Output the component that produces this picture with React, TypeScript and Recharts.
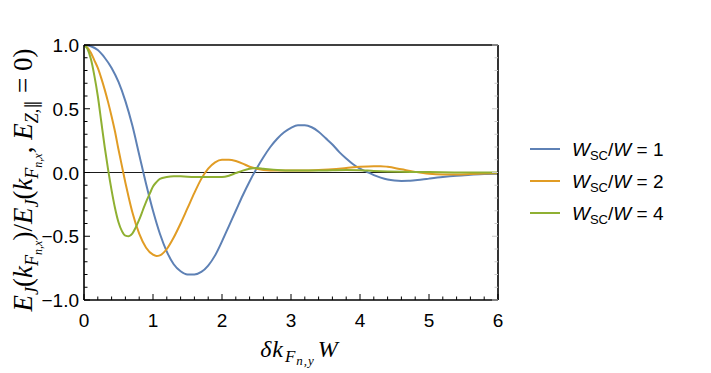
import React from 'react';
import {
  LineChart,
  Line,
  XAxis,
  YAxis,
  ReferenceLine,
  Legend,
} from 'recharts';

const w1X = [0, 0.1, 0.2, 0.3, 0.4, 0.5, 0.6, 0.7, 0.8, 0.9, 1.0, 1.1, 1.2, 1.3, 1.4, 1.5, 1.6, 1.7, 1.8, 1.9, 2.0, 2.1, 2.2, 2.3, 2.4, 2.5, 2.6, 2.7, 2.8, 2.9, 3.0, 3.1, 3.2, 3.3, 3.4, 3.5, 3.6, 3.7, 3.8, 3.9, 4.0, 4.1, 4.2, 4.3, 4.4, 4.5, 4.6, 4.7, 4.8, 4.9, 5.0, 5.2, 5.4, 5.6, 5.8, 6.0];
const w1Y = [1.0, 0.99, 0.96, 0.9, 0.82, 0.71, 0.56, 0.37, 0.14, -0.09, -0.3, -0.48, -0.62, -0.72, -0.775, -0.8, -0.8, -0.78, -0.73, -0.65, -0.54, -0.42, -0.3, -0.18, -0.07, 0.03, 0.12, 0.2, 0.265, 0.315, 0.35, 0.37, 0.37, 0.355, 0.32, 0.27, 0.22, 0.16, 0.11, 0.065, 0.03, 0.005, -0.02, -0.04, -0.055, -0.063, -0.066, -0.065, -0.06, -0.055, -0.048, -0.035, -0.025, -0.018, -0.012, -0.01];

const w2X = [0, 0.05, 0.1, 0.15, 0.2, 0.25, 0.3, 0.35, 0.4, 0.45, 0.5, 0.55, 0.6, 0.65, 0.7, 0.8, 0.9, 1.0, 1.05, 1.1, 1.2, 1.3, 1.4, 1.5, 1.6, 1.7, 1.8, 1.9, 2.0, 2.1, 2.2, 2.3, 2.4, 2.5, 2.6, 2.8, 3.0, 3.2, 3.4, 3.6, 3.8, 4.0, 4.2, 4.3, 4.4, 4.6, 4.8, 5.0, 5.2, 5.4, 5.6, 5.8, 6.0];
const w2Y = [1.0, 0.98, 0.94, 0.88, 0.82, 0.74, 0.65, 0.55, 0.44, 0.32, 0.18, 0.05, -0.08, -0.2, -0.31, -0.48, -0.59, -0.645, -0.655, -0.65, -0.6, -0.51, -0.4, -0.28, -0.16, -0.05, 0.03, 0.08, 0.1, 0.1, 0.09, 0.07, 0.045, 0.03, 0.02, 0.015, 0.015, 0.015, 0.02, 0.025, 0.035, 0.045, 0.05, 0.05, 0.045, 0.025, 0.005, -0.01, -0.015, -0.015, -0.012, -0.008, -0.005];

const w4X = [0, 0.05, 0.1, 0.15, 0.2, 0.25, 0.3, 0.35, 0.4, 0.45, 0.5, 0.55, 0.6, 0.65, 0.7, 0.75, 0.8, 0.85, 0.9, 0.95, 1.0, 1.05, 1.1, 1.2, 1.3, 1.4, 1.6, 1.8, 2.0, 2.1, 2.2, 2.3, 2.4, 2.5, 2.6, 2.8, 3.0, 3.2, 3.4, 3.6, 3.8, 4.0, 4.2, 4.4, 4.6, 4.8, 5.0, 5.5, 6.0];
const w4Y = [1.0, 0.97, 0.89, 0.76, 0.6, 0.4, 0.2, 0.02, -0.14, -0.28, -0.39, -0.46, -0.495, -0.5, -0.48, -0.43, -0.37, -0.3, -0.23, -0.17, -0.11, -0.075, -0.05, -0.035, -0.03, -0.03, -0.035, -0.035, -0.035, -0.025, -0.005, 0.015, 0.03, 0.035, 0.03, 0.02, 0.015, 0.015, 0.015, 0.018, 0.02, 0.018, 0.012, 0.008, 0.005, 0.004, 0.003, 0, 0];

const xMajor = [0, 1, 2, 3, 4, 5, 6];
const xMinor = [0.2, 0.4, 0.6, 0.8, 1.2, 1.4, 1.6, 1.8, 2.2, 2.4, 2.6, 2.8, 3.2, 3.4, 3.6, 3.8, 4.2, 4.4, 4.6, 4.8, 5.2, 5.4, 5.6, 5.8];
const yMajor = [-1, -0.5, 0, 0.5, 1];
const yMinor = [-0.9, -0.8, -0.7, -0.6, -0.4, -0.3, -0.2, -0.1, 0.1, 0.2, 0.3, 0.4, 0.6, 0.7, 0.8, 0.9];

const ratios = [1, 2, 4];
const colors = ['#5E81B5', '#E19C24', '#8FB032'];

const seriesData = [
  w1X.map((x, i) => ({ x, y: w1Y[i] })),
  w2X.map((x, i) => ({ x, y: w2Y[i] })),
  w4X.map((x, i) => ({ x, y: w4Y[i] })),
];

const xTicks = [...xMajor, ...xMinor].sort((a, b) => a - b);
const yTicks = [...yMajor, ...yMinor].sort((a, b) => a - b);

// plot frame in page pixels
const L = 84;
const R = 498;
const T = 45;
const B = 300;

const SANS = '"Liberation Sans", Arial, sans-serif';
const SERIF = '"Liberation Serif", "Times New Roman", serif';

const fmtY = (v: number) => (v < 0 ? '\u2212' : '') + Math.abs(v).toFixed(1);

function BottomTick({ x, payload }: any) {
  const major = xMajor.includes(payload.value);
  return (
    <g>
      <line x1={x} x2={x} y1={B} y2={B - (major ? 6 : 3.5)} stroke="#000" strokeWidth={1} />
      {major && (
        <text x={x} y={B + 27} textAnchor="middle" fontFamily={SANS} fontSize={19} fill="#000">
          {payload.value}
        </text>
      )}
    </g>
  );
}

function TopTick({ x, payload }: any) {
  const major = xMajor.includes(payload.value);
  return <line x1={x} x2={x} y1={T} y2={T + (major ? 6 : 3.5)} stroke="#c8c8c8" strokeWidth={1} />;
}

function LeftTick({ y, payload }: any) {
  const major = yMajor.includes(payload.value);
  return (
    <g>
      <line x1={L} x2={L + (major ? 6 : 3.5)} y1={y} y2={y} stroke="#000" strokeWidth={1} />
      {major && (
        <text x={79} y={y + 7} textAnchor="end" fontFamily={SANS} fontSize={19} fill="#000">
          {fmtY(payload.value)}
        </text>
      )}
    </g>
  );
}

function RightTick({ y, payload }: any) {
  const major = yMajor.includes(payload.value);
  return <line x1={R} x2={R - (major ? 6 : 3.5)} y1={y} y2={y} stroke="#c8c8c8" strokeWidth={1} />;
}

function XLabel() {
  return (
    <text x={299} y={357} textAnchor="middle" fontFamily={SERIF} fontStyle="italic" fontSize={24} fill="#000">
      <tspan>δ</tspan>
      <tspan dx={1}>k</tspan>
      <tspan fontSize={17} dx={2} dy={5}>F</tspan>
      <tspan fontSize={13} dx={1} dy={3} letterSpacing={1}>n,y</tspan>
      <tspan dx={3} dy={-8}>W</tspan>
    </text>
  );
}

function YLabel() {
  return (
    <text
      transform="translate(32,180) rotate(-90)"
      x={0}
      y={0}
      textAnchor="middle"
      fontFamily={SERIF}
      fontStyle="italic"
      fontSize={27}
      fill="#000"
    >
      <tspan>E</tspan>
      <tspan fontSize={18} dy={6}>J</tspan>
      <tspan dy={-6} fontStyle="normal">(</tspan>
      <tspan>k</tspan>
      <tspan fontSize={18} dy={6}>F</tspan>
      <tspan fontSize={12} dy={4}>n,x</tspan>
      <tspan dy={-10} fontStyle="normal">)/</tspan>
      <tspan>E</tspan>
      <tspan fontSize={18} dy={6}>J</tspan>
      <tspan dy={-6} fontStyle="normal">(</tspan>
      <tspan>k</tspan>
      <tspan fontSize={18} dy={6}>F</tspan>
      <tspan fontSize={12} dy={4}>n,x</tspan>
      <tspan dy={-10} fontStyle="normal">, </tspan>
      <tspan>E</tspan>
      <tspan fontSize={18} dy={6}>Z,</tspan>
      <tspan fontSize={18} fontStyle="normal">∥</tspan>
      <tspan dy={-6} fontStyle="normal"> = 0)</tspan>
    </text>
  );
}

function LegendBox() {
  return (
    <svg width={180} height={100}>
      {ratios.map((r, i) => (
        <g key={r}>
          <line x1={5} x2={35} y1={17 + 32 * i} y2={17 + 32 * i} stroke={colors[i]} strokeWidth={2} />
          <text x={47} y={24 + 32 * i} fontFamily={SANS} fontSize={19} fill="#000">
            <tspan fontStyle="italic">W</tspan>
            <tspan fontSize={13} dy={4}>SC</tspan>
            <tspan dy={-4}>/</tspan>
            <tspan fontStyle="italic">W</tspan>
            <tspan> = {r}</tspan>
          </text>
        </g>
      ))}
    </svg>
  );
}

export default function App() {
  return (
    <div style={{ position: 'absolute', left: 0, top: 0, width: 711, height: 373, background: '#fff' }}>
      <LineChart
        width={711}
        height={373}
        margin={{ top: T - 1, right: 711 - R - 1, bottom: 373 - B - 1, left: L - 1 }}
      >
        <XAxis
          xAxisId="b"
          dataKey="x"
          type="number"
          domain={[0, 6]}
          ticks={xTicks}
          interval={0}
          height={1}
          axisLine={{ stroke: '#000', strokeWidth: 1.6 }}
          tickLine={false}
          tick={(p: any) => <BottomTick {...p} />}
          allowDataOverflow
        />
        <XAxis
          xAxisId="t"
          orientation="top"
          type="number"
          domain={[0, 6]}
          ticks={xTicks}
          interval={0}
          height={1}
          axisLine={{ stroke: '#000', strokeWidth: 1.6 }}
          tickLine={false}
          tick={(p: any) => <TopTick {...p} />}
          allowDataOverflow
        />
        <YAxis
          yAxisId="l"
          type="number"
          domain={[-1, 1]}
          ticks={yTicks}
          interval={0}
          width={1}
          axisLine={{ stroke: '#000', strokeWidth: 1.6 }}
          tickLine={false}
          tick={(p: any) => <LeftTick {...p} />}
          allowDataOverflow
        />
        <YAxis
          yAxisId="r"
          orientation="right"
          type="number"
          domain={[-1, 1]}
          ticks={yTicks}
          interval={0}
          width={1}
          axisLine={{ stroke: '#000', strokeWidth: 1.6 }}
          tickLine={false}
          tick={(p: any) => <RightTick {...p} />}
          allowDataOverflow
        />
        <ReferenceLine xAxisId="b" yAxisId="l" y={0} stroke="#000" strokeWidth={0.9} />
        {seriesData.map((d, i) => (
          <Line
            key={ratios[i]}
            xAxisId="b"
            yAxisId="l"
            data={d}
            dataKey="y"
            type="monotone"
            stroke={colors[i]}
            strokeWidth={2}
            dot={false}
            isAnimationActive={false}
          />
        ))}
        <Legend
          layout="horizontal"
          align="center"
          verticalAlign="middle"
          content={() => <LegendBox />}
          wrapperStyle={{ position: 'absolute', left: 525, top: 132, width: 180, height: 100 }}
        />
        <XLabel />
        <YLabel />
      </LineChart>
    </div>
  );
}
